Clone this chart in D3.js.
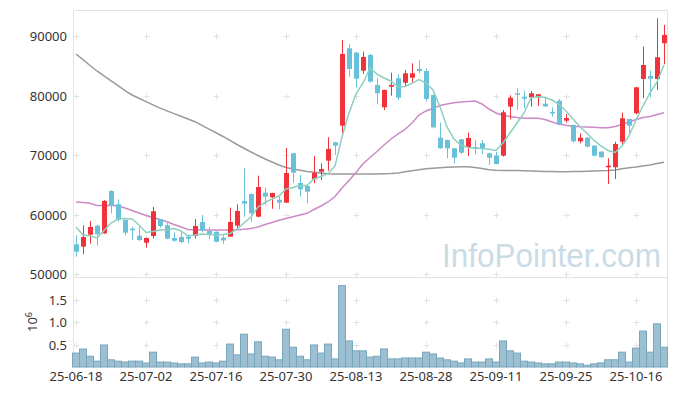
<!DOCTYPE html>
<html>
<head>
  <meta charset="utf-8">
  <script src="https://d3js.org/d3.v7.min.js"></script>
  <style>
    body { margin: 0; background: #fff; }
    text { font-family: "Noto Sans", "DejaVu Sans", sans-serif; }
  </style>
</head>
<body>
<script type="text/javascript">
  // trading days shown
  var dates = ["25-06-18","25-06-19","25-06-20","25-06-23","25-06-24","25-06-25","25-06-26","25-06-27","25-06-30","25-07-01",
    "25-07-02","25-07-03","25-07-04","25-07-07","25-07-08","25-07-09","25-07-10","25-07-11","25-07-14","25-07-15",
    "25-07-16","25-07-17","25-07-18","25-07-21","25-07-22","25-07-23","25-07-24","25-07-25","25-07-28","25-07-29",
    "25-07-30","25-07-31","25-08-01","25-08-04","25-08-05","25-08-06","25-08-07","25-08-08","25-08-11","25-08-12",
    "25-08-13","25-08-14","25-08-18","25-08-19","25-08-20","25-08-21","25-08-22","25-08-25","25-08-26","25-08-27",
    "25-08-28","25-08-29","25-09-01","25-09-02","25-09-03","25-09-04","25-09-05","25-09-08","25-09-09","25-09-10",
    "25-09-11","25-09-12","25-09-15","25-09-16","25-09-17","25-09-18","25-09-19","25-09-22","25-09-23","25-09-24",
    "25-09-25","25-09-26","25-09-29","25-09-30","25-10-01","25-10-02","25-10-10","25-10-13","25-10-14","25-10-15",
    "25-10-16","25-10-17","25-10-20","25-10-21","25-10-22"];

  var open = [55050,54650,56660,58170,56890,63990,61760,59130,57670,56490,
    55320,56440,59240,58240,56110,56270,56330,56440,58790,57280,
    57160,56150,56330,58170,62310,63490,59680,63710,62930,62530,
    62030,70320,65330,64830,65960,67230,69080,72160,74950,87940,
    87200,84180,86810,81780,78040,81490,82900,82160,83000,84460,
    84130,80100,72940,72550,71160,72670,71320,71380,72000,70320,
    69920,69920,78140,80390,79820,79710,79710,78630,77250,79140,
    75790,75070,72330,72940,71590,70590,67970,67970,72260,76070,
    77030,82790,83290,82790,88780];
  var high = [56560,58240,58960,58300,62480,64100,62600,59200,58000,58000,
    56200,61310,59300,58620,57060,57060,56730,59290,59960,57950,
    57200,56560,61190,61760,67800,63550,66560,64610,63700,63040,
    71210,70400,66680,64900,69860,68640,73000,72250,89330,88610,
    87300,87370,87000,82900,81000,83840,83620,84300,85420,85920,
    84580,80200,75450,72600,71200,72700,73770,72550,72550,70400,
    70540,77580,80050,81230,80820,80770,80250,79820,78040,79430,
    76910,75100,73670,73000,71700,70700,69480,72260,77130,76100,
    81450,88210,84180,92970,91850];
  var low = [52970,53370,55150,54810,56780,60250,58840,56560,55770,55600,
    54480,55990,57830,55900,55480,55220,55220,55990,57060,55890,
    55400,55150,56300,57780,59680,58840,59580,61600,61000,60900,
    62000,65380,63040,61930,65280,65840,67400,70030,73390,83170,
    81390,83620,82200,78540,77580,79980,79260,81610,82230,83740,
    79040,74500,71090,69480,68640,70200,69860,70150,70150,68350,
    68450,69750,76020,77580,77870,78140,78250,78100,76460,75000,
    75450,72100,72000,71300,69800,69600,65170,66010,71540,73670,
    76860,79550,79710,80940,85250];
  var close = [53810,56270,57950,56730,62310,61470,59130,56990,57400,55770,
    56110,60590,58120,55990,55650,55430,55990,58120,57450,56730,
    55480,55700,58790,60640,61860,60250,64660,63040,63660,62030,
    67010,67060,64280,63870,67010,67680,71040,71590,86980,84460,
    82840,86480,82330,80390,80940,81780,79650,83740,83740,84130,
    79430,74680,71160,71160,69580,70420,72890,71090,71040,69580,
    68520,77200,79650,80150,79480,80390,80220,78180,77130,75120,
    76240,72330,72940,71430,69920,69650,68240,71880,76190,74950,
    81390,85130,82840,86430,90170];

  // volume, in shares
  var volume = [310000,400000,240000,130000,490000,160000,130000,110000,130000,130000,
    90000,330000,110000,110000,90000,70000,70000,220000,90000,110000,
    90000,130000,510000,270000,730000,290000,560000,240000,220000,160000,
    840000,440000,240000,160000,490000,310000,510000,180000,1810000,580000,
    360000,360000,220000,240000,400000,180000,180000,200000,200000,200000,
    330000,290000,200000,160000,130000,90000,180000,110000,110000,180000,
    110000,580000,360000,310000,130000,110000,90000,70000,70000,110000,
    110000,90000,70000,40000,70000,90000,160000,160000,330000,110000,
    420000,800000,330000,960000,440000];

  // moving averages as drawn (they include days before the window)
  var ma5 = [57950,56610,56440,56110,57360,58620,59290,59380,59290,58290,
    57030,57200,57450,57530,57700,57280,56440,56610,56780,56690,
    56610,56690,56860,57620,58620,59630,61310,62060,62650,63150,
    64330,64580,64910,64910,66010,66420,66930,68190,73050,77080,
    80270,82110,84580,83620,82950,82450,81440,81530,82060,82700,
    82110,80940,78140,74730,72720,71710,71290,71160,71120,71010,
    70790,72050,73720,75400,77080,79600,79850,79680,79260,78510,
    77420,76070,74780,73640,72470,71540,70790,70450,71540,73220,
    75910,78250,80440,82280,85130];
  var ma20 = [62150,62060,61930,61560,61560,61610,61470,61140,60720,60300,
    59880,59540,59210,58840,58370,57950,57530,57450,57450,57450,
    57450,57450,57450,57500,57580,57700,57950,58370,58710,59080,
    59380,59660,59960,60250,60890,61470,62150,63070,64500,65750,
    67100,68570,69610,70620,71710,72720,73560,74310,75400,76740,
    77420,77870,78340,78590,78810,78930,79010,79090,78590,77750,
    77080,76690,76490,76320,76190,76190,76190,75990,75570,75230,
    75030,74870,74780,74730,74680,74610,74610,74810,75150,75570,
    75990,76320,76490,76830,77130];
  var ma60 = [86980,86020,85050,84130,83310,82480,81660,80840,80100,79550,
    78990,78440,77890,77430,76980,76530,76070,75620,75000,74380,
    73760,73140,72470,71790,71160,70540,69950,69360,68860,68350,
    67930,67680,67470,67260,67130,67010,66890,66840,66840,66840,
    66840,66840,66840,66840,66880,66930,67010,67210,67400,67570,
    67730,67820,67900,67970,68020,68050,68070,67930,67770,67570,
    67480,67450,67430,67410,67380,67350,67310,67280,67260,67230,
    67230,67250,67280,67310,67350,67380,67410,67520,67720,67880,
    68020,68190,68350,68590,68810];

  var priceTicks = [50000, 60000, 70000, 80000, 90000];
  var volTicks = [500000, 1000000, 1500000];
  var labelEvery = 10;

  var width = 677, height = 396;
  var left = 73.5, right = 667.5;
  var mainTop = 10.5, mainBottom = 277.5;
  var volTop = 278, volBottom = 367;

  var svg = d3.select("body").append("svg")
      .attr("width", width)
      .attr("height", height);

  var x = d3.scalePoint().domain(d3.range(dates.length)).range([76, 664]);
  var y = d3.scaleLinear().domain([49560, 94360]).range([277, 10]);
  var yv = d3.scaleLinear().domain([0, 1980000]).range([volBottom, volTop]);

  var tickIdx = d3.range(0, dates.length, labelEvery);

  // frame
  var frame = svg.append("g").attr("stroke", "#e3e3e3").attr("stroke-width", 1);
  frame.append("line").attr("x1", left).attr("x2", left).attr("y1", mainTop).attr("y2", volBottom);
  frame.append("line").attr("x1", right).attr("x2", right).attr("y1", mainTop).attr("y2", volBottom);
  frame.append("line").attr("x1", left).attr("x2", right).attr("y1", mainTop).attr("y2", mainTop);
  frame.append("line").attr("x1", left).attr("x2", right).attr("y1", mainBottom).attr("y2", mainBottom);

  // little crosses at grid points
  function crosses(ys) {
    var g = svg.append("g").attr("stroke", "#e2e2e2").attr("stroke-width", 1);
    tickIdx.forEach(function(i) {
      ys.forEach(function(yy) {
        var cx = Math.round(x(i)) + 0.5, cy = Math.round(yy) + 0.5;
        g.append("line").attr("x1", cx - 3).attr("x2", cx + 3).attr("y1", cy).attr("y2", cy);
        g.append("line").attr("x1", cx).attr("x2", cx).attr("y1", cy - 3).attr("y2", cy + 3);
      });
    });
  }
  crosses(priceTicks.map(y));
  crosses(volTicks.map(yv));

  // watermark (narrowed a little, the original face is condensed)
  svg.append("text")
      .attr("transform", "translate(442,267) scale(0.955,1)")
      .style("font-family", "'Liberation Sans', Arial, sans-serif")
      .style("font-size", "33px")
      .style("fill", "#c9dce6")
      .text("InfoPointer.com");

  // y axis labels
  svg.append("g").selectAll("text").data(priceTicks).enter().append("text")
      .attr("x", 67).attr("y", function(d) { return y(d) + 5; })
      .attr("text-anchor", "end")
      .style("font-size", "13px").style("fill", "#333")
      .text(function(d) { return d; });

  svg.append("g").selectAll("text").data(volTicks).enter().append("text")
      .attr("x", 67).attr("y", function(d) { return yv(d) + 5; })
      .attr("text-anchor", "end")
      .style("font-size", "13px").style("fill", "#333")
      .text(function(d) { return d3.format(".1f")(d / 1e6); });

  var unit = svg.append("text")
      .attr("transform", "translate(37,322) rotate(-90)")
      .attr("text-anchor", "middle")
      .style("font-size", "13px").style("fill", "#333");
  unit.append("tspan").text("10");
  unit.append("tspan").attr("dy", -5).style("font-size", "9px").text("6");

  // x labels
  svg.append("g").selectAll("text").data(tickIdx).enter().append("text")
      .attr("x", function(i) { return x(i); }).attr("y", 381)
      .attr("text-anchor", "middle")
      .style("font-size", "13px").style("fill", "#333")
      .text(function(i) { return dates[i]; });

  // volume bars
  svg.append("g").selectAll("rect").data(volume).enter().append("rect")
      .attr("x", function(d, i) { return x(i) - 3.5; })
      .attr("width", 7)
      .attr("y", function(d) { return yv(d); })
      .attr("height", function(d) { return volBottom - yv(d); })
      .attr("fill", "#9cc0d1")
      .attr("stroke", "#78a6bd")
      .attr("stroke-width", 1);

  // moving averages
  function maLine(vals, color) {
    svg.append("path")
        .datum(vals)
        .attr("fill", "none")
        .attr("stroke", color)
        .attr("stroke-width", 1.5)
        .attr("d", d3.line().x(function(d, i) { return x(i); }).y(function(d) { return y(d); }));
  }
  maLine(ma60, "#9a9a9a");
  maLine(ma20, "#cc8ac6");

  // candles
  var up = "#f0323a", down = "#68c1d8";
  var candles = svg.append("g").selectAll("g").data(dates).enter().append("g");
  candles.append("line")
      .attr("x1", function(d, i) { return Math.round(x(i)) + 0.5; })
      .attr("x2", function(d, i) { return Math.round(x(i)) + 0.5; })
      .attr("y1", function(d, i) { return y(high[i]); })
      .attr("y2", function(d, i) { return y(low[i]); })
      .attr("stroke", function(d, i) { return close[i] >= open[i] ? up : down; })
      .attr("stroke-width", 1);
  candles.append("rect")
      .attr("x", function(d, i) { return Math.round(x(i)) - 2; })
      .attr("width", 5)
      .attr("y", function(d, i) { return y(Math.max(open[i], close[i])); })
      .attr("height", function(d, i) { return Math.max(1.5, Math.abs(y(open[i]) - y(close[i]))); })
      .attr("fill", function(d, i) { return close[i] >= open[i] ? up : down; });

  maLine(ma5, "#8dcfc0");
</script>
</body>
</html>
